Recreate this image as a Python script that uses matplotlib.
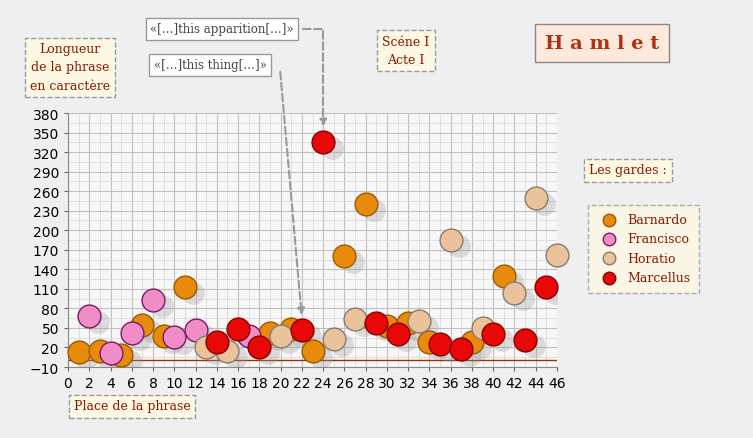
import matplotlib
matplotlib.use("Agg")
import matplotlib.pyplot as plt

barnardo_x = [1, 3, 5, 7, 9, 11, 19, 21, 23, 26, 28, 30, 32, 34, 38, 41]
barnardo_y = [13, 14, 8, 55, 38, 113, 42, 48, 15, 160, 240, 53, 58, 28, 28, 130]
francisco_x = [2, 4, 6, 8, 10, 12, 17]
francisco_y = [68, 12, 42, 93, 36, 47, 38]
horatio_x = [13, 15, 20, 25, 27, 33, 36, 39, 42, 44, 46]
horatio_y = [20, 15, 38, 33, 64, 61, 185, 50, 104, 250, 162]
marcellus_x = [14, 16, 18, 22, 24, 29, 31, 35, 37, 40, 43, 45]
marcellus_y = [28, 48, 20, 47, 335, 57, 40, 25, 17, 40, 32, 113]

series = [("Barnardo", barnardo_x, barnardo_y, "#e88a0c", "#9a5a00"),
          ("Francisco", francisco_x, francisco_y, "#f08cc8", "#7a1a60"),
          ("Horatio", horatio_x, horatio_y, "#eac39c", "#8a7a6a"),
          ("Marcellus", marcellus_x, marcellus_y, "#e80808", "#8a0000")]

fig = plt.figure(figsize=(7.53, 4.39), dpi=100)
fig.patch.set_facecolor("#efefef")
ax = fig.add_axes([68/753, 1-368/439, (557-68)/753, (368-114)/439])
ax.set_facecolor("#f7f7f7")
ax.set_xlim(0, 46)
ax.set_ylim(-10, 380)
ax.set_xticks(range(0, 47, 2))
ax.set_yticks(range(-10, 381, 30))
ax.set_xticks(range(0, 47, 1), minor=True)
ax.set_yticks(range(-10, 381, 15), minor=True)
ax.grid(True, which="major", color="#c0c0c0", lw=0.8)
ax.grid(True, which="minor", color="#dadada", lw=0.6)
ax.set_axisbelow(True)
ax.tick_params(labelsize=10, length=3, color="#666")
ax.tick_params(which="minor", length=0)
for s in ["top", "right"]:
    ax.spines[s].set_visible(False)
ax.spines["left"].set_color("#888")
ax.spines["bottom"].set_color("#888")
ax.axhline(0, color="#a03000", lw=1)

for name, xs, ys, fc, ec in series:
    ax.scatter([x + 0.8 for x in xs], [y - 9 for y in ys], s=270, color="#999999", alpha=0.3, lw=0, zorder=2)
    ax.scatter(xs, ys, s=270, color=fc, edgecolor=ec, lw=1, zorder=3, label=name, clip_on=False)

box = dict(boxstyle="square,pad=0.4", fc="#fdf8e4", ec="#999", ls="--")
tc = "#8a1a00"
fs = 9
fig.text(70/753, 1-68/439, "Longueur\nde la phrase\nen caractère", ha="center", va="center", fontsize=fs, color=tc, family="DejaVu Serif", bbox=box, linespacing=1.5)
fig.text(406/753, 1-51/439, "Scéne I\nActe I", ha="center", va="center", fontsize=fs, color=tc, family="DejaVu Serif", bbox=box, linespacing=1.5)
fig.text(628/753, 1-171/439, "Les gardes :", ha="center", va="center", fontsize=fs, color=tc, family="DejaVu Serif", bbox=box)
fig.text(132/753, 1-407/439, "Place de la phrase", ha="center", va="center", fontsize=fs, color=tc, family="DejaVu Serif", bbox=box)
fig.text(602/753, 1-44/439, "H a m l e t", ha="center", va="center", fontsize=14, fontweight="bold", color="#b03010", family="DejaVu Serif",
         bbox=dict(boxstyle="square,pad=0.5", fc="#fde8dc", ec="#888"))
wb = dict(boxstyle="square,pad=0.35", fc="white", ec="#999")
fig.text(222/753, 1-30/439, "«[…]this apparition[…]»", ha="center", va="center", fontsize=8.5, color="#444", family="DejaVu Serif", bbox=wb)
fig.text(210/753, 1-66/439, "«[…]this thing[…]»", ha="center", va="center", fontsize=8.5, color="#444", family="DejaVu Serif", bbox=wb)
ax.annotate("", xy=(24, 355), xytext=(300/753, 1-30/439), textcoords="figure fraction",
            arrowprops=dict(arrowstyle="-|>", ls="--", color="#999", lw=1.5, connectionstyle="angle,angleA=0,angleB=90"))
ax.annotate("", xy=(22, 65), xytext=(280/753, 1-70/439), textcoords="figure fraction",
            arrowprops=dict(arrowstyle="-|>", ls="--", color="#999", lw=1.5))

leg = ax.legend(loc="upper left", bbox_to_anchor=(585/753, 1-203/439), bbox_transform=fig.transFigure,
                markerscale=0.55, frameon=True, labelspacing=0.5, handletextpad=0.5,
                prop=dict(family="DejaVu Serif", size=9))
leg.get_frame().set_facecolor("#fdf8e4")
leg.get_frame().set_edgecolor("#999")
leg.get_frame().set_linestyle("--")
leg.get_frame().set_boxstyle("square")
for t in leg.get_texts():
    t.set_color(tc)

fig.savefig("out.png", dpi=100)
